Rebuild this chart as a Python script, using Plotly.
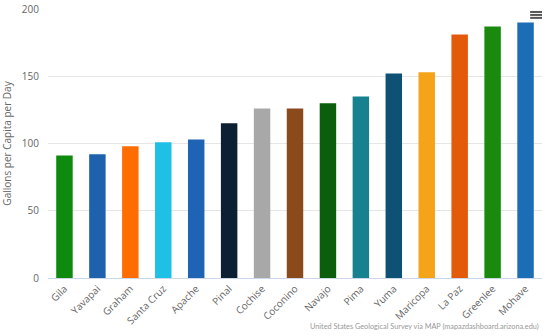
import plotly.graph_objects as go

counties = ["Gila", "Yavapai", "Graham", "Santa Cruz", "Apache", "Pinal", "Cochise",
            "Coconino", "Navajo", "Pima", "Yuma", "Maricopa", "La Paz", "Greenlee", "Mohave"]
gpcd = [91, 92, 98, 101, 103, 115, 126, 126, 130, 135, 152, 153, 181, 187, 190]
colors = ["#0e8a0e", "#1e62ad", "#ff6c00", "#1ec0e6", "#1f63b5", "#0d1f33", "#a8a8a8",
          "#8b4a1c", "#0b5e0b", "#17818f", "#0f5075", "#f5a41a", "#e35b0a", "#1a8a0e", "#1b6db5"]
y_ticks = [0, 50, 100, 150, 200]

fig = go.Figure(go.Bar(x=counties, y=gpcd, marker=dict(color=colors, line=dict(width=0)),
                       hovertemplate="%{x}: %{y}<extra></extra>"))

menu_shapes = []
for yy in (0.989, 0.978, 0.967):
    menu_shapes.append(dict(type="line", xref="paper", yref="paper", x0=0.976, x1=1.0,
                            y0=yy, y1=yy, line=dict(color="#555555", width=2)))

fig.update_layout(
    width=550, height=336,
    margin=dict(l=48, r=8, t=9, b=58, autoexpand=False),
    paper_bgcolor="white", plot_bgcolor="white",
    font=dict(family="Open Sans, Lato, sans-serif", color="#666666", size=10),
    bargap=0.5,
    showlegend=False,
    xaxis=dict(tickangle=-45, tickfont=dict(size=10, color="#666666"), automargin=False,
               showline=True, linecolor="#ccd6eb", linewidth=1, ticks="", showgrid=False),
    yaxis=dict(range=[0, 200], tickvals=y_ticks, tickfont=dict(size=10, color="#666666"),
               gridcolor="#e6e6e6", gridwidth=1, zeroline=False, automargin=False,
               ticklabelstandoff=8,
               title=dict(text="Gallons per Capita per Day", font=dict(size=10, color="#666666"),
                          standoff=8)),
    shapes=menu_shapes,
    annotations=[
        dict(text="United States Geological Survey via MAP (mapazdashboard.arizona.edu)",
             xref="paper", yref="paper", x=0.998, y=-0.18, xanchor="right", yanchor="middle",
             showarrow=False, font=dict(size=7.3, color="#999999", family="Lato, sans-serif")),
    ],
)

fig.write_html("out.html", config={"displayModeBar": False},
               post_script="document.body.style.margin='0px';document.body.style.overflow='hidden';")
